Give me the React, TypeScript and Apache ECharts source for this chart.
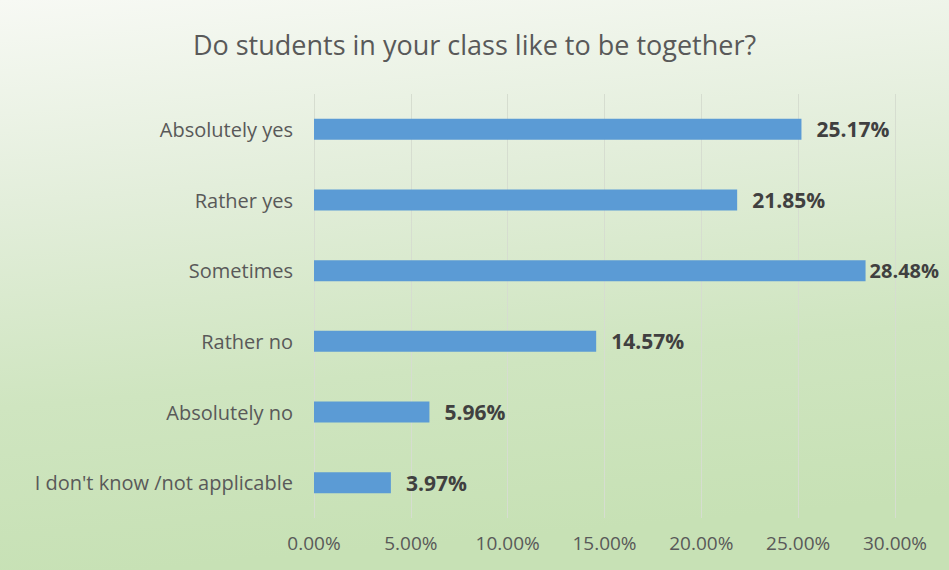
import React, { useEffect, useRef } from "react";
import * as echarts from "echarts";

const titleText = "Do students in your class like to be together?";
const categories = [
  "Absolutely yes",
  "Rather yes",
  "Sometimes",
  "Rather no",
  "Absolutely no",
  "I don't know /not applicable",
];
const values = [25.17, 21.85, 28.48, 14.57, 5.96, 3.97];
const axisMin = 0;
const axisMax = 30;
const axisInterval = 5;

export default function App() {
  const ref = useRef<HTMLDivElement>(null);
  useEffect(() => {
    document.body.style.margin = "0";
    if (!ref.current) return;
    const chart = echarts.init(ref.current, undefined, { renderer: "svg" });
    const font = "'Open Sans', 'Noto Sans', sans-serif";
    const maxVal = Math.max(...values);
    chart.setOption({
      animation: false,
      backgroundColor: {
        type: "linear",
        x: 0,
        y: 0,
        x2: 0.15,
        y2: 1,
        colorStops: [
          { offset: 0, color: "#f7f9f4" },
          { offset: 0.35, color: "#e3eedb" },
          { offset: 0.7, color: "#cfe5c0" },
          { offset: 1, color: "#c7e1b5" },
        ],
      },
      title: {
        text: titleText,
        left: "center",
        top: 26,
        textStyle: {
          fontFamily: font,
          fontSize: 27,
          fontWeight: "normal",
          color: "#595959",
        },
      },
      grid: { left: 314, right: 54, top: 94, bottom: 52, containLabel: false },
      xAxis: {
        type: "value",
        min: axisMin,
        max: axisMax,
        interval: axisInterval,
        axisLine: { show: false },
        axisTick: { show: false },
        splitLine: { show: true, lineStyle: { color: "#d6ddd0", width: 1 } },
        axisLabel: {
          fontFamily: font,
          fontSize: 19,
          color: "#595959",
          margin: 15,
          formatter: (v: number) => v.toFixed(2) + "%",
        },
      },
      yAxis: {
        type: "category",
        data: categories,
        inverse: true,
        axisLine: { show: false },
        axisTick: { show: false },
        axisLabel: {
          fontFamily: font,
          fontSize: 20,
          color: "#595959",
          margin: 21,
        },
      },
      series: [
        {
          type: "bar",
          data: values.map((v) =>
            v === maxVal ? { value: v, label: { distance: 4, fontSize: 20 } } : v
          ),
          barWidth: 21,
          itemStyle: { color: "#5b9bd5" },
          label: {
            show: true,
            position: "right",
            distance: 15,
            fontFamily: font,
            fontSize: 21,
            fontWeight: "bold",
            color: "#404040",
            formatter: (p: any) => Number(p.value).toFixed(2) + "%",
          },
        },
      ],
    });
    return () => chart.dispose();
  }, []);
  return <div ref={ref} style={{ width: 949, height: 570 }} />;
}
